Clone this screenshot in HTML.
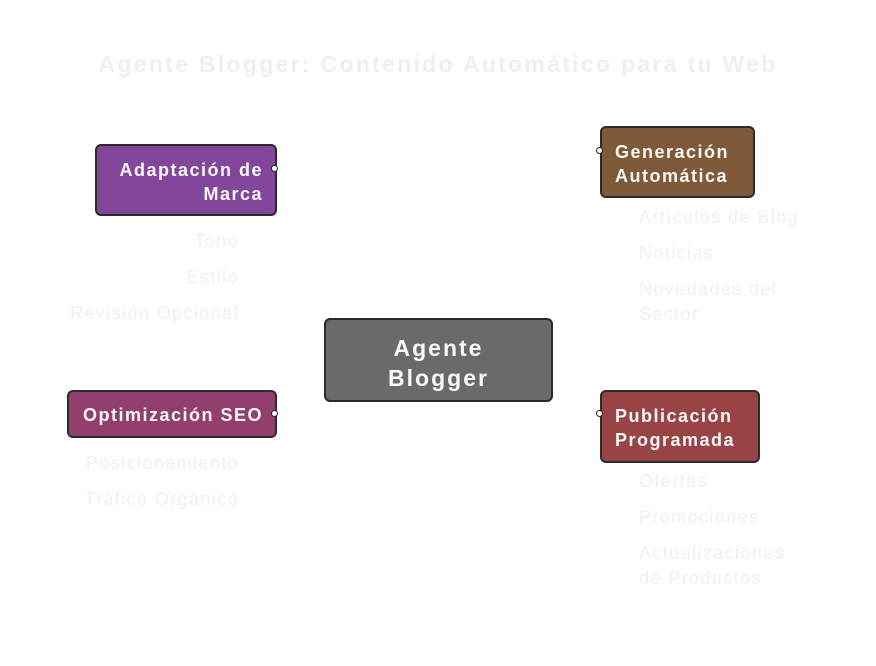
<!DOCTYPE html>
<html><head><meta charset="utf-8"><style>
body{margin:0;width:876px;height:666px;background:#fff;position:relative;overflow:hidden;font-family:"Liberation Sans",sans-serif}
.t{position:absolute;color:#f0f0f0;font-size:18px;line-height:25px;white-space:nowrap;letter-spacing:1.4px}
.b{position:absolute;box-sizing:border-box;border:2px solid #2b2b2b;border-radius:6px;color:#f8f8f8;font-weight:bold;font-size:18px;line-height:24px;letter-spacing:1.5px;white-space:nowrap}
.d{position:absolute;width:5px;height:5px;border-radius:50%;background:#fff;border:1.5px solid #2b2b2b}
</style></head><body>
<div class="t" style="left:0;width:876px;text-align:center;top:52px;font-size:23px;font-weight:bold;color:#efefef;letter-spacing:2.3px">Agente Blogger: Contenido Automático para tu Web</div>

<div class="b" style="left:95px;top:144px;width:182px;height:72px;background:#82479a;text-align:right;padding:12px 12px 0 0">Adaptación de<br>Marca</div>
<div class="d" style="left:271px;top:165px"></div>
<div class="t" style="right:637px;top:229px">Tono</div>
<div class="t" style="right:637px;top:265px">Estilo</div>
<div class="t" style="right:637px;top:301px">Revisión Opcional</div>

<div class="b" style="left:600px;top:126px;width:155px;height:72px;background:#7f5a3a;padding:12px 0 0 13px">Generación<br>Automática</div>
<div class="d" style="left:596px;top:147px"></div>
<div class="t" style="left:639px;top:205px">Artículos de Blog</div>
<div class="t" style="left:639px;top:241px">Noticias</div>
<div class="t" style="left:639px;top:277px">Novedades del<br>Sector</div>

<div class="b" style="left:324px;top:318px;width:229px;height:84px;background:#6a6a6a;text-align:center;font-size:23px;line-height:30px;padding-top:13px;letter-spacing:2px">Agente<br>Blogger</div>

<div class="b" style="left:67px;top:390px;width:210px;height:48px;background:#923f6e;text-align:right;padding:11px 12px 0 0">Optimización SEO</div>
<div class="d" style="left:271px;top:410px"></div>
<div class="t" style="right:637px;top:451px">Posicionamiento</div>
<div class="t" style="right:637px;top:487px">Tráfico Orgánico</div>

<div class="b" style="left:600px;top:390px;width:160px;height:73px;background:#984444;padding:12px 0 0 13px">Publicación<br>Programada</div>
<div class="d" style="left:596px;top:410px"></div>
<div class="t" style="left:639px;top:469px">Ofertas</div>
<div class="t" style="left:639px;top:505px">Promociones</div>
<div class="t" style="left:639px;top:541px">Actualizaciones<br>de Productos</div>
</body></html>
